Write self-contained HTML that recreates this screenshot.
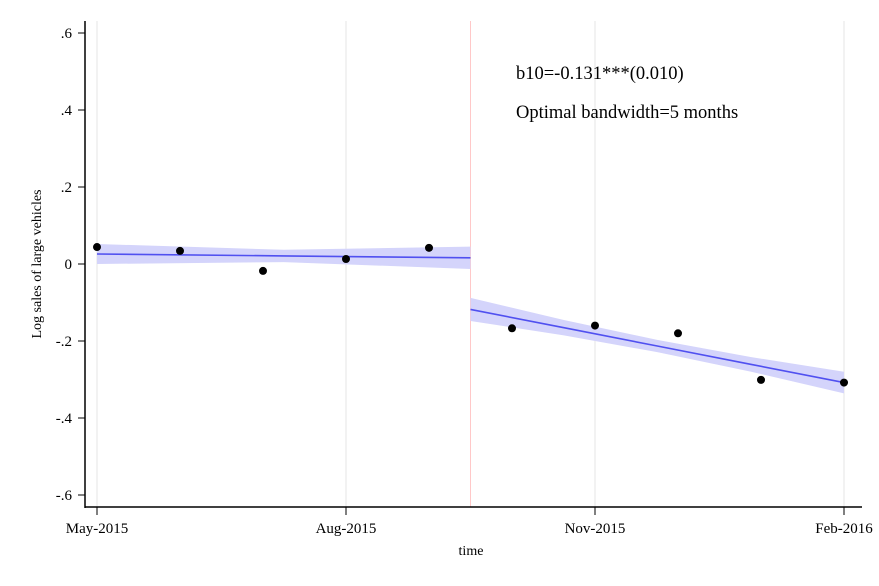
<!DOCTYPE html>
<html><head><meta charset="utf-8"><style>
html,body{margin:0;padding:0;background:#fff;}
svg{display:block;font-family:"Liberation Serif",serif;}
</style></head><body>
<svg id="chart" width="879" height="586" viewBox="0 0 879 586" xmlns="http://www.w3.org/2000/svg">
<g id="grid"></g>
<g id="bands"></g>
<g id="fits"></g>
<g id="points"></g>
<g id="axes"></g>
<text x="516" y="79" font-size="18.5">b10=-0.131***(0.010)</text>
<text x="516" y="118" font-size="18.5">Optimal bandwidth=5 months</text>
<text x="471" y="555" font-size="14" text-anchor="middle">time</text>
<text transform="translate(41,264) rotate(-90)" font-size="14" text-anchor="middle">Log sales of large vehicles</text>
</svg>
<script>
const months = [0,1,2,3,4,5,6,7,8,9];
const values = [0.044,0.034,-0.018,0.013,0.042,-0.167,-0.160,-0.180,-0.301,-0.308];
const xTickMonths = [0,3,6,9];
const xTickLabels = ["May-2015","Aug-2015","Nov-2015","Feb-2016"];
const yTicks = [0.6,0.4,0.2,0,-0.2,-0.4,-0.6];
const yTickLabels = [".6",".4",".2","0","-.2","-.4","-.6"];
const cutoff = 4.5;
const leftFitMonths = [0,2.25,4.5];
const leftFitValues = [0.026,0.021,0.016];
const leftBandLo = [0.000,0.005,-0.013];
const leftBandHi = [0.052,0.037,0.045];
const rightFitMonths = [4.5,5.625,6.75,7.875,9];
const rightFitValues = [-0.118,-0.1655,-0.213,-0.2605,-0.308];
const rightBandLo = [-0.148,-0.1855,-0.229,-0.2795,-0.336];
const rightBandHi = [-0.088,-0.1455,-0.197,-0.2415,-0.280];

const NS="http://www.w3.org/2000/svg";
const X0=97, MPX=83, Y0=264, YPX=385;
const xs=m=>X0+m*MPX, ys=v=>Y0-v*YPX;
function mk(tag,attrs,parent){const e=document.createElementNS(NS,tag);for(const k in attrs)e.setAttribute(k,attrs[k]);document.getElementById(parent).appendChild(e);return e;}
const plotTop=21,plotBottom=507,plotLeft=85;
xTickMonths.forEach(m=>{const l=mk('line',{x1:xs(m),x2:xs(m),y1:plotTop,y2:plotBottom,stroke:'#e6e6e6','stroke-width':1},'grid');

});
const cl=mk('line',{x1:xs(cutoff),x2:xs(cutoff),y1:plotTop,y2:plotBottom,stroke:'#ffc8c8','stroke-width':1},'grid');


function band(ms,lo,hi,name){let d='M'+ms.map((m,i)=>xs(m)+','+ys(hi[i])).join(' L')+' L'+ms.slice().reverse().map((m,j)=>{const i=ms.length-1-j;return xs(m)+','+ys(lo[i]);}).join(' L')+'Z';
const p=mk('path',{d:d,fill:'#d4d4fb'},'bands');

}
band(leftFitMonths,leftBandLo,leftBandHi,'left-ci-band');
band(rightFitMonths,rightBandLo,rightBandHi,'right-ci-band');
function fit(ms,vs,name){const p=mk('polyline',{points:ms.map((m,i)=>xs(m)+','+ys(vs[i])).join(' '),fill:'none',stroke:'#5050f0','stroke-width':1.6},'fits');

}
fit(leftFitMonths,leftFitValues,'left-fit-line');
fit(rightFitMonths,rightFitValues,'right-fit-line');
months.forEach((m,i)=>{const c=mk('circle',{cx:xs(m),cy:ys(values[i]),r:4,fill:'#000'},'points');

});
const ya=mk('line',{x1:plotLeft,x2:plotLeft,y1:plotTop,y2:plotBottom+1,stroke:'#000','stroke-width':1.5},'axes');


const xa=mk('line',{x1:plotLeft,x2:862,y1:plotBottom,y2:plotBottom,stroke:'#000','stroke-width':1.5},'axes');


yTicks.forEach((v,i)=>{const t=mk('line',{x1:plotLeft-7,x2:plotLeft,y1:ys(v),y2:ys(v),stroke:'#000','stroke-width':1},'axes');


const tx=mk('text',{x:plotLeft-13,y:ys(v)+5,'font-size':15,'text-anchor':'end'},'axes');tx.textContent=yTickLabels[i];

});
xTickMonths.forEach((m,i)=>{const t=mk('line',{x1:xs(m),x2:xs(m),y1:plotBottom,y2:plotBottom+8,stroke:'#000','stroke-width':1},'axes');


const tx=mk('text',{x:xs(m),y:plotBottom+26,'font-size':15,'text-anchor':'middle'},'axes');tx.textContent=xTickLabels[i];

});
</script>
</body></html>
